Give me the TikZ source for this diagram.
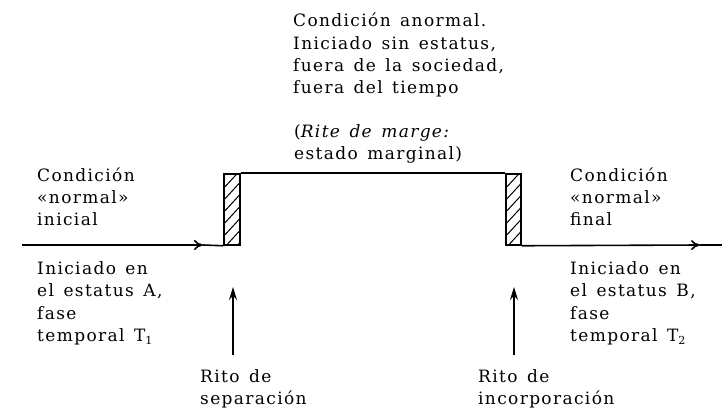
\documentclass[tikz,border=0pt]{standalone}
\usepackage{fontspec}
\setmainfont[LetterSpace=8,WordSpace=1.4]{DejaVu Serif}
\usetikzlibrary{arrows.meta}
\begin{document}
\begin{tikzpicture}[x=1pt,y=-1pt,
  txt/.style={anchor=north west, inner sep=0pt, align=left, font=\fontsize{17}{22.3}\selectfont},
  mainline/.style={line width=1.6pt},
  hatchbox/.style={draw, line width=1.5pt, minimum height=71pt, inner sep=0pt},
  midtip/.style={-{To[length=9pt,width=10pt]}},
  uptip/.style={line width=1.5pt, -{Stealth[length=13pt,width=8pt]}}
]
\useasboundingbox (0,0) rectangle (722,412);

% hatched boxes
\node[hatchbox, minimum width=16pt] (sepbox) at (232,209.5) {};
\node[hatchbox, minimum width=15pt] (incbox) at (513.5,209.5) {};
\begin{scope}
  \clip (224,174) rectangle (240,245);
  \foreach \k in {-2,...,7} \draw[line width=1pt] (222,{250-12*\k}) -- ++(24,-26);
\end{scope}
\begin{scope}
  \clip (506,174) rectangle (521,245);
  \foreach \k in {-2,...,7} \draw[line width=1pt] (504,{250-12*\k}) -- ++(24,-26);
\end{scope}
\node[hatchbox, minimum width=16pt] at (sepbox) {};
\node[hatchbox, minimum width=15pt] at (incbox) {};

% main time line
\coordinate (lstart) at (22,245);
\coordinate (lmid) at (203,245);
\coordinate (rmid) at (700,245);
\coordinate (rend) at (722,245);
\draw[mainline, midtip] (lstart) -- (lmid);
\draw[mainline] (lmid) -- (sepbox.south west);
\draw[mainline] (sepbox.north east) -- (incbox.north west);
\draw[mainline, midtip] (incbox.south east) -- (rmid);
\draw[mainline] (rmid) -- (rend);

% rite arrows
\coordinate (sepfoot) at (233,355);
\coordinate (septip) at (233,287);
\coordinate (incfoot) at (514,355);
\coordinate (inctip) at (514,287);
\draw[uptip] (sepfoot) -- (septip);
\draw[uptip] (incfoot) -- (inctip);

% texts
\node[txt] (anormal) at (293,13) {Condición anormal.\\Iniciado sin estatus,\\fuera de la sociedad,\\fuera del tiempo};
\node[txt] (marge) at (294,124.5) {(\textit{Rite de marge:}\\estado marginal)};
\node[txt] (inicial) at (37,167.5) {Condición\\«normal»\\inicial};
\node[txt] (statusA) at (37,261.5) {Iniciado en\\el estatus A,\\fase\\temporal T\raisebox{-3pt}{\fontsize{11}{11}\selectfont 1}};
\node[txt] (final) at (570,167.5) {Condición\\«normal»\\final};
\node[txt] (statusB) at (570,261.5) {Iniciado en\\el estatus B,\\fase\\temporal T\raisebox{-3pt}{\fontsize{11}{11}\selectfont 2}};
\node[txt] (sep) at (200,369.5) {Rito de\\separación};
\node[txt] (inc) at (478,369.5) {Rito de\\incorporación};
\end{tikzpicture}
\end{document}
